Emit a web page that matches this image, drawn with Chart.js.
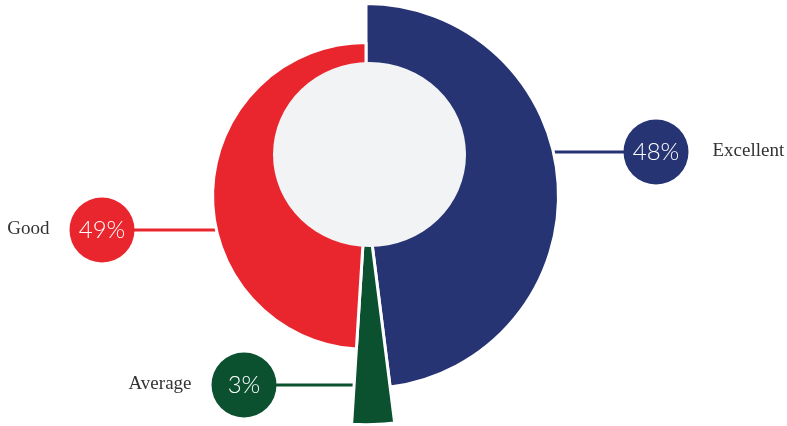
<!DOCTYPE html>
<html><head><meta charset="utf-8">
<script src="https://cdn.jsdelivr.net/npm/chart.js@4/dist/chart.umd.min.js"></script>
<style>html,body{margin:0;padding:0;background:#fff}canvas{display:block}</style>
</head><body>
<canvas id="c" width="787" height="426"></canvas>
<script>
// ---- data ----
const categories = ['Excellent', 'Average', 'Good'];
const values = [48, 3, 49];
const percentLabels = ['48%', '3%', '49%'];

// ---- styles ----
const colors = ['#273473', '#0b5130', '#e9262e'];
const radiusFactors = [1.0, 1.188, 0.797];
const labelPlacement = [
  {dx: 290, dy: -44, side: 'right'},
  {dx: -122, dy: 189, side: 'left'},
  {dx: -264, dy: 34, side: 'left'}
];

const varRadius = {
  id: 'varRadius',
  afterDatasetUpdate(chart, args) {
    const meta = args.meta;
    const base = meta.controller.outerRadius;
    meta.data.forEach((arc, i) => { arc.outerRadius = base * radiusFactors[i]; });
  }
};

const labelsPlugin = {
  id: 'labelsPlugin',
  beforeDatasetsDraw(chart) {
    const ctx = chart.ctx;
    const meta = chart.getDatasetMeta(0);
    meta.data.forEach((arc, i) => {
      const p = labelPlacement[i];
      const cx = arc.x, cy = arc.y;
      const lx = cx + p.dx, ly = cy + p.dy;
      const r = 32.5;
      ctx.save();
      ctx.strokeStyle = colors[i];
      ctx.lineWidth = 3;
      ctx.beginPath(); ctx.moveTo(lx, ly); ctx.lineTo(cx, ly); ctx.stroke();
      ctx.fillStyle = colors[i];
      ctx.beginPath(); ctx.arc(lx, ly, r, 0, Math.PI * 2); ctx.fill();
      ctx.fillStyle = '#ffffff';
      ctx.font = '300 24px Lato';
      ctx.textAlign = 'center';
      ctx.textBaseline = 'middle';
      ctx.fillText(percentLabels[i], lx, ly);
      ctx.fillStyle = '#333333';
      ctx.font = '19px "Liberation Serif"';
      if (p.side === 'right') {
        ctx.textAlign = 'left';
        ctx.fillText(categories[i], lx + r + 24, ly - 1);
      } else {
        ctx.textAlign = 'right';
        ctx.fillText(categories[i], lx - r - 20, ly - 1);
      }
      ctx.restore();
    });
  },
  afterDatasetsDraw(chart) {
    const ctx = chart.ctx;
    const arc = chart.getDatasetMeta(0).data[0];
    ctx.save();
    ctx.fillStyle = '#f2f3f5';
    ctx.beginPath();
    ctx.ellipse(arc.x + 3.5, arc.y - 41.5, 96.5, 92.5, 0, 0, Math.PI * 2);
    ctx.fill();
    ctx.restore();
  }
};

new Chart(document.getElementById('c'), {
  type: 'pie',
  data: {
    labels: categories,
    datasets: [{
      data: values,
      backgroundColor: colors,
      borderColor: '#ffffff',
      borderWidth: 3,
      hoverBorderWidth: 3,
      hoverOffset: 0,
      offset: 0,
      clip: false
    }]
  },
  options: {
    responsive: false,
    animation: false,
    events: [],
    layout: { padding: { top: 2, bottom: 36, left: 100, right: 155 } },
    plugins: { legend: { display: false }, tooltip: { enabled: false } }
  },
  plugins: [varRadius, labelsPlugin]
});
</script>
</body></html>
